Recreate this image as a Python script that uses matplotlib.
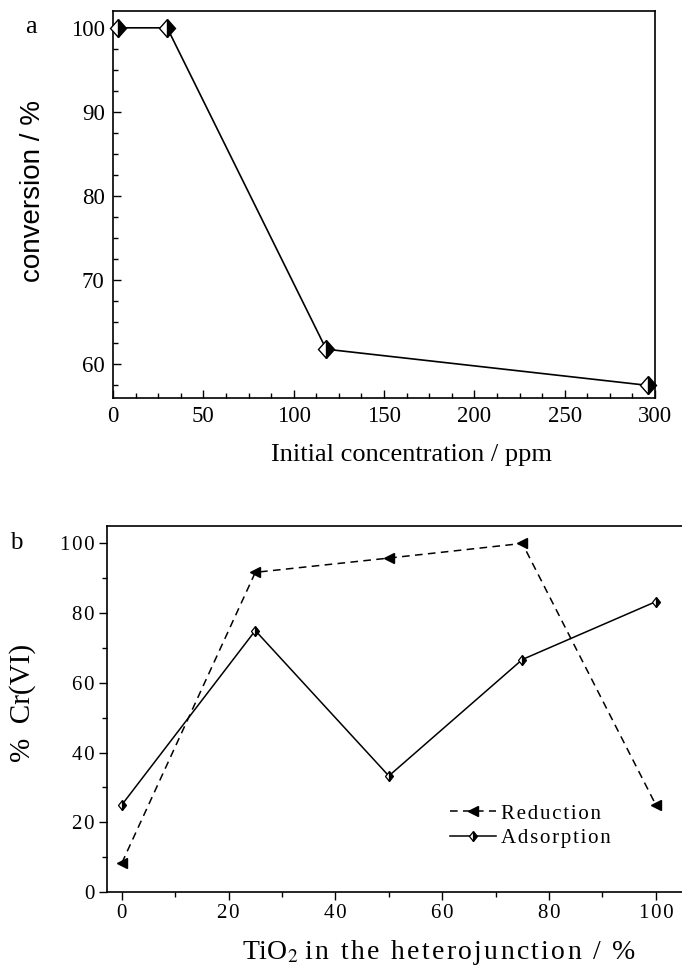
import matplotlib
matplotlib.use("Agg")
import matplotlib.pyplot as plt
from matplotlib.markers import MarkerStyle
from matplotlib.transforms import Affine2D
from matplotlib.ticker import MultipleLocator, FuncFormatter

plt.rcParams['font.family'] = ['Liberation Serif', 'DejaVu Serif']
plt.rcParams['mathtext.fontset'] = 'stix'

# panel a: conversion vs initial concentration
conc_ppm = [3, 30, 118, 296]
conversion = [100, 100, 61.8, 57.5]

# panel b: Cr(VI) vs TiO2 content
tio2_pct = [0, 25, 50, 75, 100]
reduction = [8.3, 91.7, 95.8, 100, 25]
adsorption = [25, 75, 33.3, 66.7, 83.3]


def spaced(txt):
    # the original figure uses loose letter spacing in panel b
    return '\u200a'.join(txt)


fig = plt.figure(figsize=(6.82, 9.75), dpi=100)

# ---------- panel a ----------
ax1 = fig.add_axes([113/682, 1-398/975, 542/682, 387/975])
diam_big = MarkerStyle('D', fillstyle='right', transform=Affine2D().scale(0.85, 1.0))
ax1.plot(conc_ppm, conversion, color='black', lw=1.2, marker=diam_big, ms=9,
         mfc='black', mfcalt='white', mec='black', mew=1.0, clip_on=False, zorder=3)
ax1.set_xlim(0, 300)
ax1.set_ylim(56, 102)
ax1.xaxis.set_major_locator(MultipleLocator(50))
ax1.xaxis.set_minor_locator(MultipleLocator(12.5))
ax1.yaxis.set_major_locator(MultipleLocator(10))
ax1.yaxis.set_minor_locator(MultipleLocator(2.5))
ax1.tick_params(which='both', direction='in', top=False, right=False, labelsize=16.5, width=1.0)
ax1.tick_params(which='major', length=6, pad=6)
ax1.tick_params(which='minor', length=3.5)
for s in ax1.spines.values():
    s.set_linewidth(1.2)
ax1.set_xlabel('Initial concentration / ppm', fontsize=19)
ax1.xaxis.set_label_coords(0.55, -0.12)
ax1.set_ylabel('conversion / %', fontsize=20, family='Liberation Sans', va='center')
ax1.yaxis.set_label_coords(-0.148, 0.534)
fig.text(31/682, 1-27/975, 'a', fontsize=19, ha='center', va='center')

# ---------- panel b ----------
ax2 = fig.add_axes([106.7/682, 1-892/975, 1-106.7/682, 366/975])
diam_small = MarkerStyle('D', fillstyle='right', transform=Affine2D().scale(0.75, 1.0))
ax2.plot(tio2_pct, reduction, color='black', lw=1.1, ls=(0, (5, 3.5)), marker='<', ms=7,
         mfc='black', mec='black', clip_on=False, zorder=3, label=spaced('Reduction'))
ax2.plot(tio2_pct, adsorption, color='black', lw=1.1, marker=diam_small, ms=5.5,
         mfc='black', mfcalt='white', mec='black', mew=0.9, clip_on=False, zorder=3,
         label=spaced('Adsorption'))
ax2.set_xlim(-2.83, 104.9)
ax2.set_ylim(0, 105)
ax2.xaxis.set_major_locator(MultipleLocator(20))
ax2.xaxis.set_minor_locator(MultipleLocator(10))
ax2.yaxis.set_major_locator(MultipleLocator(20))
ax2.yaxis.set_minor_locator(MultipleLocator(10))
fmt = FuncFormatter(lambda v, pos: spaced('%d' % round(v)))
ax2.xaxis.set_major_formatter(fmt)
ax2.yaxis.set_major_formatter(fmt)
ax2.tick_params(which='both', direction='out', top=False, right=False, labelsize=15, width=1.0)
ax2.tick_params(which='major', length=6, pad=3)
ax2.tick_params(which='minor', length=3.5)
ax2.spines['right'].set_visible(False)
for s in ax2.spines.values():
    s.set_linewidth(1.2)
ax2.set_xlabel(r'TiO$_{2}$ ' + spaced('in the heterojunction / %'), fontsize=20)
ax2.xaxis.set_label_coords(0.578, -0.125)
ax2.set_ylabel('%  Cr(VI)', fontsize=21, va='center')
ax2.yaxis.set_label_coords((23-106.7)/575.3, (892-703)/366)
ax2.legend(loc='upper left', bbox_to_anchor=((450-106.7)/575.3, (892-804)/366),
           frameon=False, fontsize=15, handlelength=2.2, handletextpad=0.25,
           labelspacing=0.25, borderpad=0, borderaxespad=0, numpoints=1)
fig.text(16/682, 1-543/975, 'b', fontsize=18, ha='center', va='center')

fig.savefig('out.png', dpi=100)
